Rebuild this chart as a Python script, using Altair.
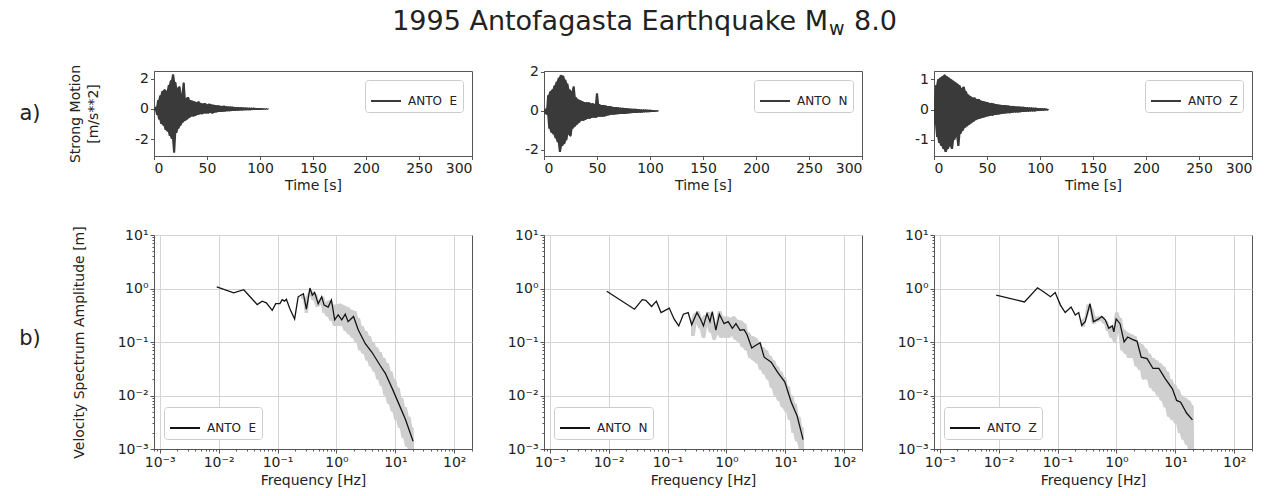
import altair as alt
import pandas as pd

FONT = "DejaVu Sans"
INK = "#222222"
FRAME = "#555555"

# ---------------------------------------------------------------
# Strong-motion records (m/s**2), one sample per second, 0..108 s
# ---------------------------------------------------------------
seconds = list(range(109))

accel_e = [
    0.05, -0.1, 0.15,
    -0.4, 0.6, -0.7, 0.9, -1.0,
    1.2, -1.1, 1.3, -1.4, 1.2, -1.5, 1.6,
    -1.8, 1.9, -2.0, 2.3, -2.9, 1.8,
    -1.6, 1.4, -1.3, 1.5, -1.1, 1.0, -0.9, 1.75,
    -0.8, 0.7, -0.7, 0.8, -0.6, 0.6, -0.5, 0.55, -0.5, 0.5, -0.45, 0.45,
    -0.4, 0.5, -0.35, 0.4, -0.35, 0.35, -0.3, 0.4, -0.3, 0.3,
    -0.3, 0.35, -0.25, 0.3, -0.3, 0.28, -0.25, 0.25, -0.22, 0.25,
    -0.2, 0.22, -0.2, 0.2, -0.18, 0.22, -0.17, 0.18, -0.15, 0.17,
    -0.15, 0.16, -0.14, 0.15, -0.13, 0.14, -0.12, 0.13, -0.12, 0.12,
    -0.1, 0.12, -0.1, 0.1, -0.09, 0.1, -0.09, 0.09, -0.08, 0.09,
    -0.08, 0.08, -0.07, 0.08, -0.07, 0.07, -0.06, 0.06, -0.06, 0.06,
    -0.05, 0.05, -0.05, 0.04, -0.04, 0.04, -0.03, 0.02,
]

accel_n = [
    0.1, -0.15, 0.12, -0.2,
    0.8, -0.9, 1.0, -1.1, 1.1, -1.2,
    1.3, -1.4, 1.5, -1.6, 1.7, -2.1,
    1.85, -1.8, 1.8, -1.7, 1.6, -1.5,
    1.4, -1.2, 1.1, -1.3, 1.0, -0.9, 1.25,
    -0.8, 0.7, -0.7, 0.6, -0.6, 0.55, -0.5, 0.5, -0.5, 0.45, -0.45, 0.45,
    -0.4, 0.45, -0.4, 0.4, -0.35, 0.4, -0.35, 0.35, -0.35, 0.9,
    -0.3, 0.35, -0.3, 0.3, -0.3, 0.3, -0.28, 0.28, -0.25, 0.25,
    -0.22, 0.25, -0.2, 0.22, -0.2, 0.2, -0.18, 0.2, -0.17, 0.18,
    -0.16, 0.17, -0.15, 0.16, -0.15, 0.15, -0.14, 0.14, -0.13, 0.13,
    -0.12, 0.12, -0.11, 0.11, -0.1, 0.11, -0.1, 0.1, -0.09, 0.09,
    -0.09, 0.08, -0.08, 0.08, -0.07, 0.07, -0.07, 0.06, -0.06, 0.06,
    -0.05, 0.05, -0.05, 0.04, -0.04, 0.04, -0.03, 0.02,
]

accel_z = [
    0.2, -0.5, 0.8, -0.9,
    1.0, -1.1, 1.05, -1.2, 1.1, -1.3,
    1.15, -1.4, 1.1, -1.3, 1.05, -1.2,
    1.0, -1.3, 0.95, -1.0, 0.9, -0.9,
    0.85, -1.2, 0.8, -0.8, 0.7, -0.7, 0.75,
    -0.6, 0.6, -0.55, 0.5, -0.5, 0.45, -0.45, 0.4, -0.4, 0.4, -0.35, 0.35,
    -0.32, 0.35, -0.3, 0.3, -0.28, 0.28, -0.26, 0.26, -0.24, 0.25,
    -0.22, 0.22, -0.2, 0.22, -0.2, 0.2, -0.18, 0.18, -0.17, 0.17,
    -0.16, 0.16, -0.15, 0.15, -0.14, 0.15, -0.13, 0.14, -0.12, 0.13,
    -0.12, 0.12, -0.11, 0.12, -0.1, 0.11, -0.1, 0.1, -0.1, 0.1,
    -0.09, 0.09, -0.08, 0.09, -0.08, 0.08, -0.07, 0.08, -0.07, 0.07,
    -0.06, 0.07, -0.06, 0.06, -0.06, 0.06, -0.05, 0.05, -0.05, 0.05,
    -0.04, 0.04, -0.04, 0.04, -0.03, 0.03, -0.03, 0.02,
]

# ---------------------------------------------------------------
# Smoothed velocity spectra (m) against frequency (Hz)
# ---------------------------------------------------------------
freq_smooth_e = [
    0.0093, 0.018, 0.0267, 0.0452, 0.055, 0.0646, 0.0813, 0.0933,
    0.1096, 0.120, 0.1318, 0.1413, 0.162, 0.195, 0.224, 0.275,
    0.309, 0.355, 0.389, 0.427, 0.490, 0.562, 0.617, 0.724,
    0.822, 0.933, 1.07, 1.23, 1.41, 1.58, 1.95, 2.34,
    3.09, 3.98, 5.56, 6.76, 8.91, 11.5, 14.8, 20.0,
]
amp_smooth_e = [
    1.07, 0.83, 0.95, 0.50, 0.58, 0.54, 0.39, 0.52,
    0.52, 0.62, 0.58, 0.63, 0.42, 0.27, 0.70, 0.80,
    0.41, 1.02, 0.75, 0.84, 0.52, 0.70, 0.49, 0.45,
    0.61, 0.26, 0.32, 0.26, 0.33, 0.24, 0.30, 0.17,
    0.093, 0.065, 0.036, 0.026, 0.0133, 0.0069, 0.0036, 0.0014,
]

freq_smooth_n = [
    0.0093, 0.0275, 0.0372, 0.0427, 0.0537, 0.0646, 0.0776, 0.0912,
    0.107, 0.129, 0.155, 0.186, 0.224, 0.257, 0.316, 0.363,
    0.407, 0.468, 0.525, 0.575, 0.661, 0.759, 0.912, 1.07,
    1.26, 1.45, 1.70, 2.00, 2.24, 2.69, 3.02, 3.72,
    4.37, 5.75, 7.41, 9.77, 12.6, 15.8, 20.0,
]
amp_smooth_n = [
    0.89, 0.41, 0.62, 0.60, 0.46, 0.58, 0.355, 0.39,
    0.43, 0.27, 0.20, 0.33, 0.355, 0.21, 0.355, 0.27,
    0.20, 0.34, 0.24, 0.37, 0.166, 0.33, 0.22, 0.24,
    0.18, 0.22, 0.166, 0.17, 0.137, 0.077, 0.084, 0.097,
    0.052, 0.042, 0.027, 0.018, 0.0075, 0.0042, 0.0015,
]

freq_smooth_z = [
    0.0091, 0.0275, 0.0457, 0.0603, 0.0759, 0.0912, 0.112, 0.135,
    0.170, 0.200, 0.229, 0.257, 0.295, 0.355, 0.407, 0.501,
    0.562, 0.646, 0.741, 0.851, 0.902, 0.989, 1.15, 1.35,
    1.55, 1.86, 2.24, 2.63, 3.31, 4.17, 5.25, 6.76,
    8.91, 10.5, 12.3, 15.5, 19.5,
]
amp_smooth_z = [
    0.75, 0.56, 1.03, 0.84, 0.70, 0.84, 0.49, 0.355,
    0.45, 0.32, 0.355, 0.205, 0.24, 0.52, 0.24, 0.27,
    0.30, 0.26, 0.18, 0.20, 0.155, 0.27, 0.22, 0.10,
    0.124, 0.112, 0.103, 0.052, 0.049, 0.032, 0.032, 0.0205,
    0.0133, 0.0081, 0.0075, 0.0047, 0.0035,
]

# Raw spectra on a shared frequency grid
freq_raw = [
    0.25, 0.27, 0.29, 0.31, 0.33, 0.35, 0.38, 0.41,
    0.44, 0.47, 0.50, 0.54, 0.58, 0.62, 0.66, 0.71,
    0.76, 0.82, 0.88, 0.94, 1.00, 1.08, 1.16, 1.24,
    1.33, 1.43, 1.53, 1.64, 1.76, 1.89, 2.03, 2.18,
    2.34, 2.51, 2.69, 2.89, 3.10, 3.33, 3.57, 3.83,
    4.11, 4.41, 4.73, 5.08, 5.45, 5.85, 6.28, 6.74,
    7.23, 7.76, 8.33, 8.94, 9.60, 10.3, 11.05, 11.86,
    12.7, 13.6, 14.6, 15.7, 16.9, 18.1, 19.4, 20.5,
]
amp_raw_e = [
    0.78, 0.65, 0.62, 0.35, 0.75, 0.85, 0.90, 0.60,
    0.80, 0.45, 0.60, 0.50, 0.70, 0.35, 0.55, 0.30,
    0.60, 0.25, 0.50, 0.20, 0.50, 0.20, 0.52, 0.20,
    0.48, 0.16, 0.45, 0.14, 0.40, 0.12, 0.38, 0.10,
    0.28, 0.07, 0.20, 0.06, 0.16, 0.045, 0.13, 0.035,
    0.10, 0.028, 0.08, 0.020, 0.065, 0.015, 0.05, 0.010,
    0.04, 0.007, 0.028, 0.005, 0.020, 0.0035, 0.014, 0.0025,
    0.009, 0.0016, 0.006, 0.0011, 0.004, 0.0009, 0.0025, 0.0008,
]
amp_raw_n = [
    0.25, 0.13, 0.34, 0.22, 0.38, 0.18, 0.28, 0.12,
    0.32, 0.20, 0.36, 0.15, 0.30, 0.11, 0.22, 0.14,
    0.38, 0.12, 0.30, 0.12, 0.30, 0.12, 0.28, 0.13,
    0.30, 0.11, 0.26, 0.10, 0.25, 0.08, 0.22, 0.07,
    0.15, 0.05, 0.13, 0.045, 0.12, 0.04, 0.10, 0.03,
    0.08, 0.025, 0.07, 0.02, 0.055, 0.014, 0.045, 0.010,
    0.035, 0.008, 0.028, 0.006, 0.022, 0.005, 0.015, 0.0035,
    0.010, 0.002, 0.007, 0.0014, 0.004, 0.001, 0.0025, 0.0009,
]
amp_raw_z = [
    0.26, 0.19, 0.27, 0.30, 0.50, 0.45, 0.40, 0.22,
    0.30, 0.24, 0.30, 0.25, 0.30, 0.22, 0.25, 0.16,
    0.20, 0.12, 0.18, 0.10, 0.36, 0.15, 0.28, 0.07,
    0.17, 0.06, 0.15, 0.05, 0.14, 0.05, 0.13, 0.035,
    0.10, 0.03, 0.09, 0.02, 0.075, 0.02, 0.06, 0.014,
    0.05, 0.012, 0.045, 0.010, 0.04, 0.008, 0.035, 0.006,
    0.028, 0.004, 0.02, 0.0035, 0.016, 0.003, 0.013, 0.002,
    0.010, 0.0015, 0.009, 0.0012, 0.008, 0.0008, 0.0065, 0.0008,
]

components = ["E", "N", "Z"]
accel = {"E": accel_e, "N": accel_n, "Z": accel_z}
accel_domain = {"E": [-3.13, 2.53], "N": [-2.31, 2.05], "Z": [-1.53, 1.27]}
accel_ticks = {"E": [-2, 0, 2], "N": [-2, 0, 2], "Z": [-1, 0, 1]}
smooth = {
    "E": (freq_smooth_e, amp_smooth_e),
    "N": (freq_smooth_n, amp_smooth_n),
    "Z": (freq_smooth_z, amp_smooth_z),
}
raw = {"E": amp_raw_e, "N": amp_raw_n, "Z": amp_raw_z}

time_ticks = [0, 50, 100, 150, 200, 250, 300]

WAVE_H = 85
SPEC_H = 214
ROW_GAP = 79


def log_ticks(lo, hi):
    out = []
    for e in range(-4, 3):
        for m in range(1, 10):
            v = round(m * 10.0 ** e, 8)
            if lo <= v <= hi:
                out.append(v)
    return out


LOG = "(log(datum.value)/LN10)"
IS_DECADE = f"abs({LOG} - round({LOG})) < 0.001"
SUPER = {-3: "⁻³", -2: "⁻²", -1: "⁻¹", 0: "⁰", 1: "¹", 2: "²"}
label_chain = "''"
for exp, sup in SUPER.items():
    label_chain = f"round({LOG}) == {exp} ? '10{sup}' : ({label_chain})"
LOG_LABELS = f"{IS_DECADE} ? ({label_chain}) : ''"

grid_only_decades = {"condition": {"test": IS_DECADE, "value": 1}, "value": 0}
tick_len = {"condition": {"test": IS_DECADE, "value": 4}, "value": 2}


def trace_name(comp):
    return f"ANTO\u00a0 {comp}"


def wave_panel(comp, first):
    df = pd.DataFrame({"t": seconds, "a": accel[comp], "trace": trace_name(comp)})
    x = alt.X(
        "t:Q",
        scale=alt.Scale(domain=[0, 300], nice=False),
        axis=alt.Axis(values=time_ticks, tickSize=3.5, titlePadding=3, grid=False),
        title="Time [s]",
    )
    y_scale = alt.Scale(domain=accel_domain[comp], nice=False, zero=False)
    y = alt.Y(
        "a:Q",
        scale=y_scale,
        axis=alt.Axis(values=accel_ticks[comp], labelExpr="'' + datum.value",
                      tickSize=3.5, titlePadding=34, titleLineHeight=18, grid=False),
        title=["Strong Motion", "[m/s**2]"] if first else None,
    )
    # local swing of the trace (neighbouring samples) shaded as a solid band
    band = (
        alt.Chart(df)
        .transform_window(hi="max(a)", lo="min(a)", frame=[-1, 1], sort=[{"field": "t"}])
        .mark_area(color="#3a3a3a", clip=True)
        .encode(x=x, y=alt.Y("lo:Q", scale=y_scale), y2="hi:Q")
    )
    line = alt.Chart(df).mark_line(strokeWidth=1, clip=True).encode(
        x=x,
        y=y,
        color=alt.Color(
            "trace:N",
            scale=alt.Scale(domain=[trace_name(comp)], range=["#3a3a3a"]),
            legend=alt.Legend(
                title=None, orient="top-right", offset=9,
                symbolType="stroke", symbolSize=900, symbolStrokeWidth=2,
                strokeColor="#cccccc", fillColor="white", padding=5,
                cornerRadius=3, labelOffset=6,
            ),
        ),
    )
    layers = [line, band]
    if first:
        row_tag = alt.Chart(pd.DataFrame({"s": ["a)"]})).mark_text(
            font=FONT, fontSize=21, color=INK, align="center", baseline="middle"
        ).encode(x=alt.value(-124), y=alt.value(43), text="s:N")
        head = alt.Chart(pd.DataFrame({"s": ["1995 Antofagasta Earthquake M"]})).mark_text(
            font=FONT, fontSize=27, color=INK, align="right", baseline="middle"
        ).encode(x=alt.value(674), y=alt.value(-49), text="s:N")
        sub = alt.Chart(pd.DataFrame({"s": ["w"]})).mark_text(
            font=FONT, fontSize=19, color=INK, align="left", baseline="middle"
        ).encode(x=alt.value(675), y=alt.value(-42), text="s:N")
        mag = alt.Chart(pd.DataFrame({"s": ["8.0"]})).mark_text(
            font=FONT, fontSize=27, color=INK, align="left", baseline="middle"
        ).encode(x=alt.value(700), y=alt.value(-49), text="s:N")
        layers += [row_tag, head, sub, mag]
    return alt.layer(*layers).properties(width=318, height=WAVE_H)


def spectrum_panel(comp, first):
    f_s, a_s = smooth[comp]
    sm = pd.DataFrame({"f": f_s, "amp": a_s, "trace": trace_name(comp)})
    rw = pd.DataFrame({"f": freq_raw, "amp": raw[comp]})
    x = alt.X(
        "f:Q",
        scale=alt.Scale(type="log", domain=[0.0008, 200], nice=False),
        axis=alt.Axis(values=log_ticks(0.0008, 200), labelExpr=LOG_LABELS,
                      grid=True, gridColor="#d4d4d4", gridOpacity=grid_only_decades,
                      tickSize=tick_len, titlePadding=4),
        title="Frequency [Hz]",
    )
    y_scale = alt.Scale(type="log", domain=[0.001, 10], nice=False)
    y = alt.Y(
        "amp:Q",
        scale=y_scale,
        axis=alt.Axis(values=log_ticks(0.001, 10), labelExpr=LOG_LABELS,
                      grid=True, gridColor="#d4d4d4", gridOpacity=grid_only_decades,
                      tickSize=tick_len, titlePadding=31),
        title="Velocity Spectrum Amplitude [m]" if first else None,
    )
    grey_band = (
        alt.Chart(rw)
        .transform_window(hi="max(amp)", lo="min(amp)", frame=[-1, 1], sort=[{"field": "f"}])
        .mark_area(color="#cfcfcf", clip=True)
        .encode(x=x, y=alt.Y("lo:Q", scale=y_scale), y2="hi:Q")
    )
    grey = alt.Chart(rw).mark_line(color="#b8b8b8", strokeWidth=1, clip=True).encode(x=x, y=y)
    black = alt.Chart(sm).mark_line(strokeWidth=1.3, clip=True).encode(
        x=x,
        y=y,
        color=alt.Color(
            "trace:N",
            scale=alt.Scale(domain=[trace_name(comp)], range=["#141414"]),
            legend=alt.Legend(
                title=None, orient="bottom-left", offset=10,
                symbolType="stroke", symbolSize=900, symbolStrokeWidth=2,
                symbolStrokeColor="#555555",
                strokeColor="#cccccc", fillColor="white", padding=5,
                cornerRadius=3, labelOffset=6,
            ),
        ),
    )
    layers = [grey, grey_band, black]
    if first:
        row_tag = alt.Chart(pd.DataFrame({"s": ["b)"]})).mark_text(
            font=FONT, fontSize=21, color=INK, align="center", baseline="middle"
        ).encode(x=alt.value(-124), y=alt.value(104), text="s:N")
        layers.append(row_tag)
    return alt.layer(*layers).properties(width=318, height=SPEC_H)


row_a = alt.hconcat(
    *[wave_panel(c, i == 0) for i, c in enumerate(components)],
    spacing=72, bounds="flush",
).resolve_scale(color="independent").resolve_legend(color="independent")

row_b = alt.hconcat(
    *[spectrum_panel(c, i == 0) for i, c in enumerate(components)],
    spacing=72, bounds="flush",
).resolve_scale(color="independent").resolve_legend(color="independent")

# with flush bounds a nested row counts as zero height, so the row
# offset carries the upper row's plot height as well as the gap
chart = (
    alt.vconcat(row_a, row_b, spacing=WAVE_H + ROW_GAP, bounds="flush")
    .resolve_scale(color="independent")
    .resolve_legend(color="independent")
    .properties(padding={"left": 18, "top": 7, "right": 5, "bottom": 5}, background="white")
    .configure_view(stroke=FRAME, strokeWidth=1)
    .configure_axis(
        labelFont=FONT, titleFont=FONT, labelFontSize=14, titleFontSize=14,
        labelColor=INK, titleColor=INK, titleFontWeight="normal",
        domainColor=FRAME, tickColor=FRAME, labelPadding=2,
    )
    .configure_legend(labelFont=FONT, labelFontSize=12, labelColor=INK)
)

chart.save("out.html", embed_options={"renderer": "svg", "actions": False})
